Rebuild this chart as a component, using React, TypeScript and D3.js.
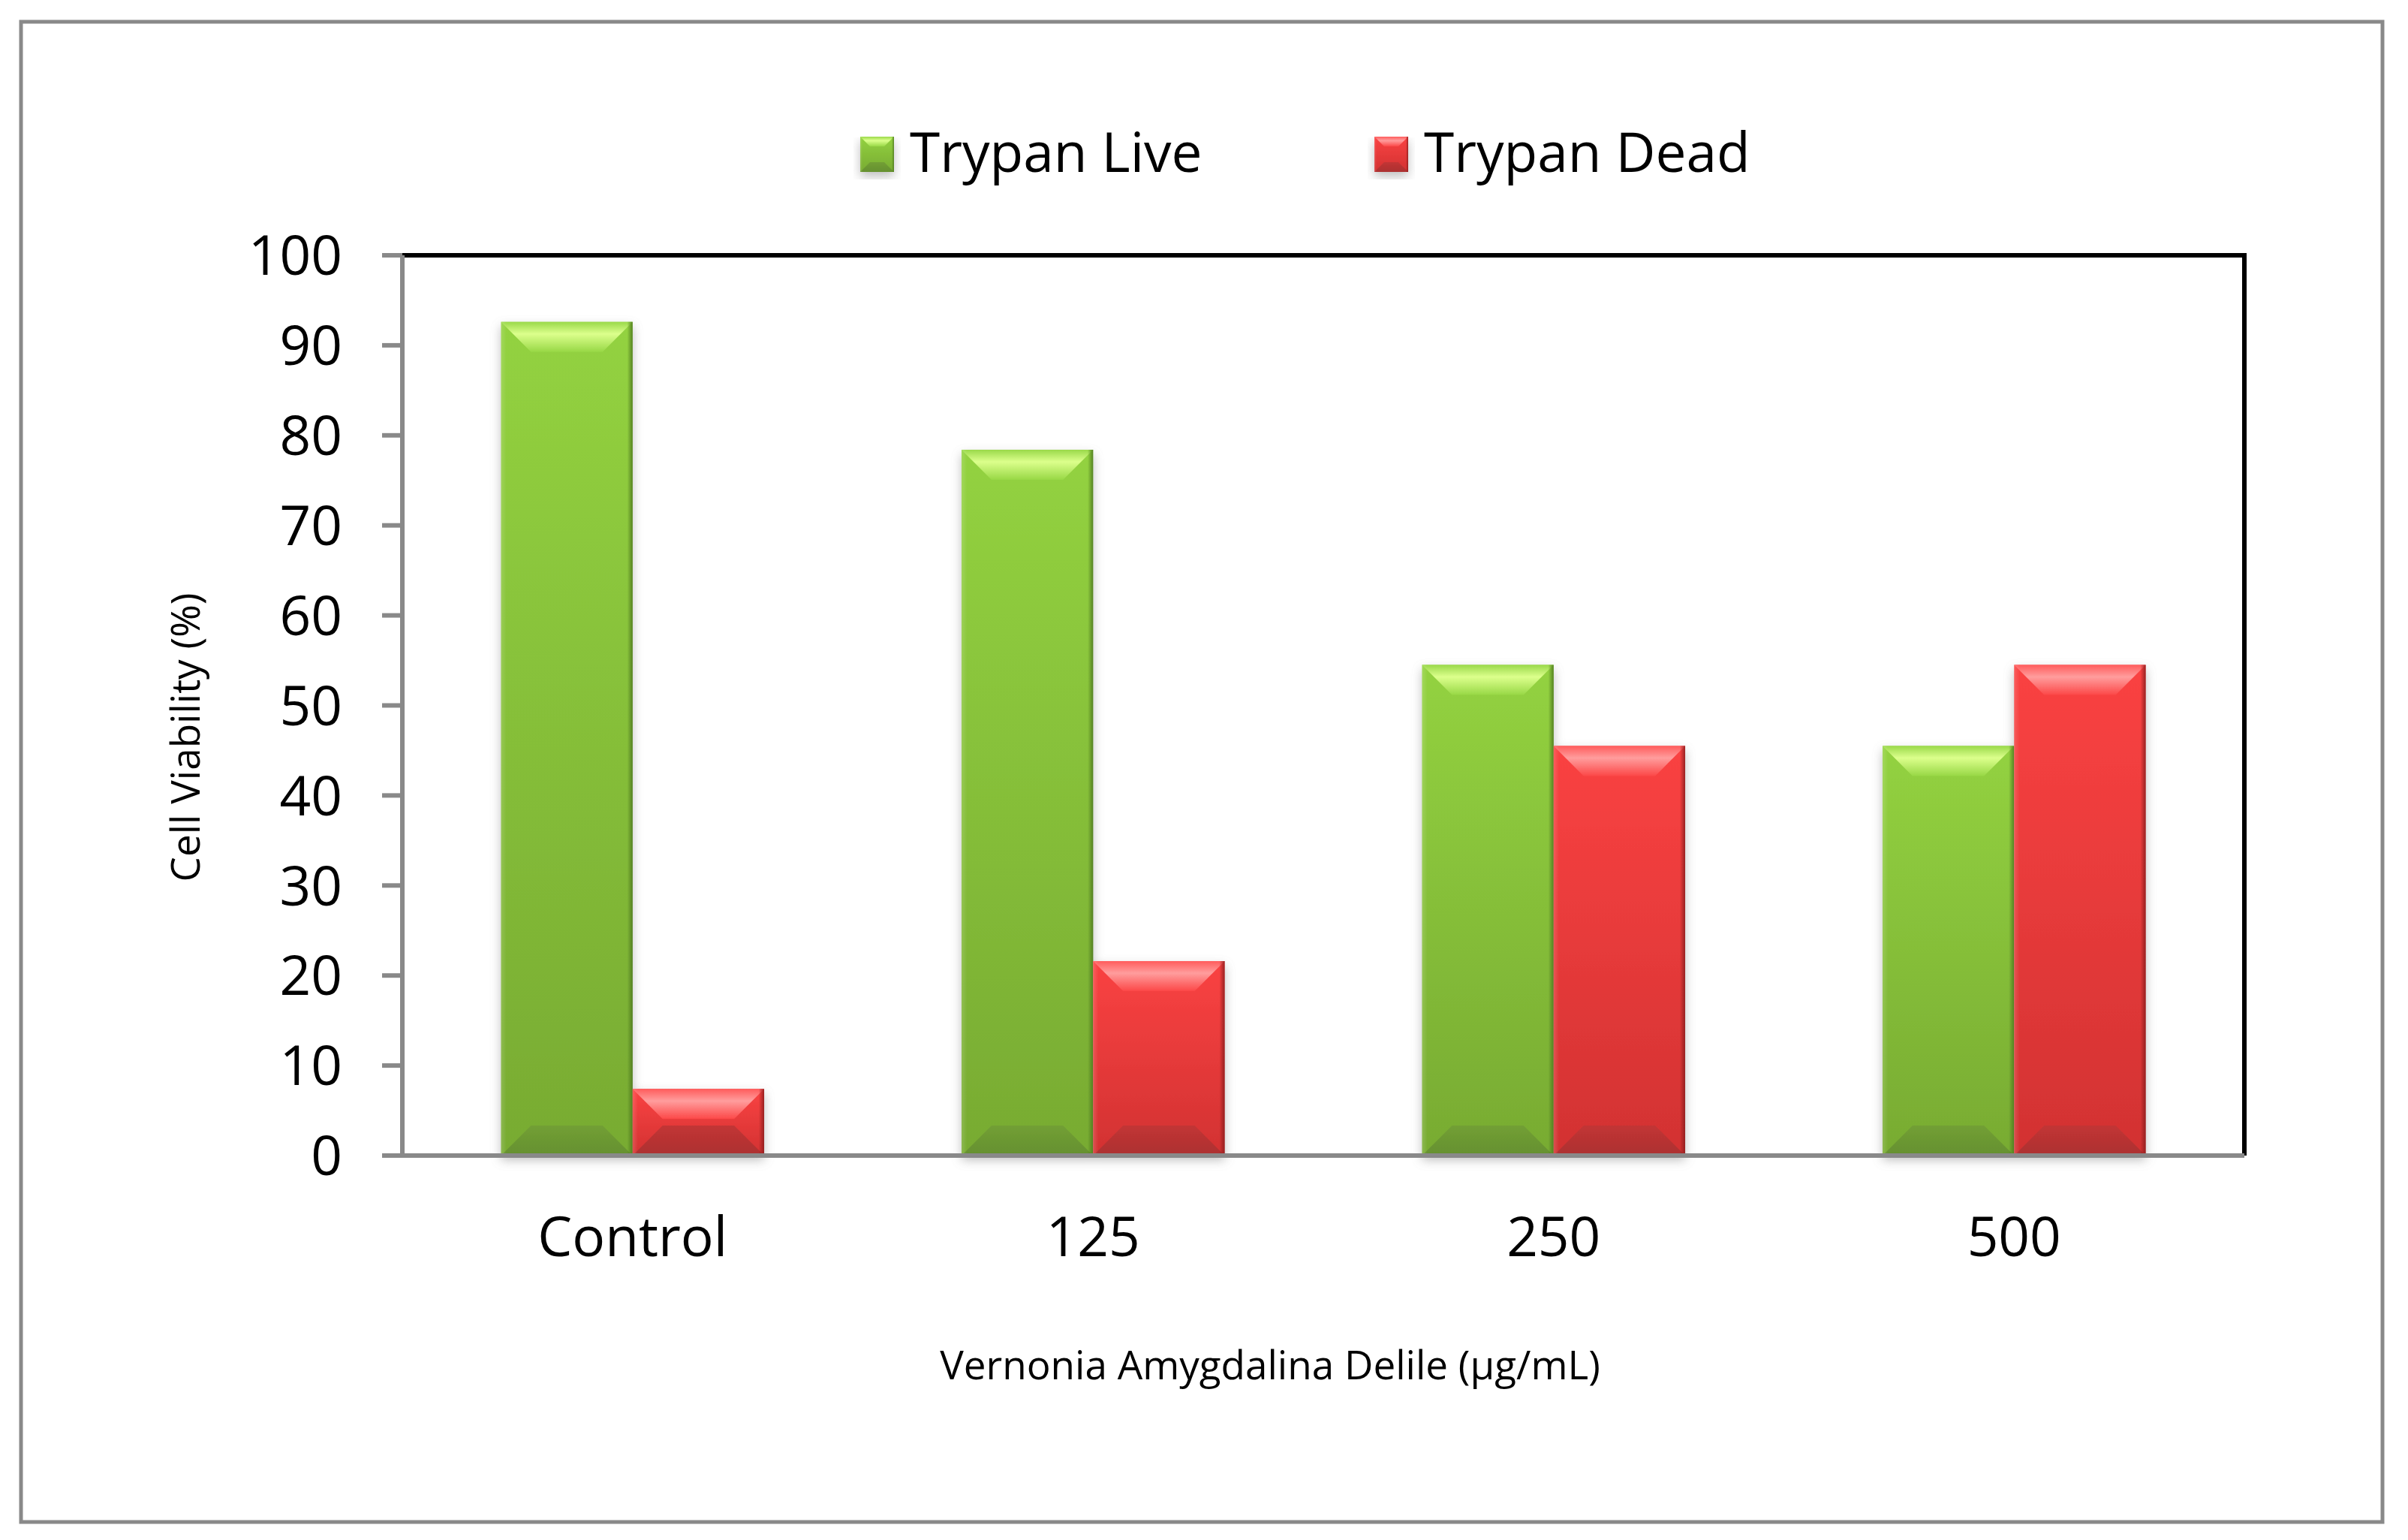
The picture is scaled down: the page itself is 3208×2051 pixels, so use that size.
import * as d3 from 'd3';

const categories = ['Control', '125', '250', '500'];
const seriesNames = ['Trypan Live', 'Trypan Dead'];
const liveValues = [92.6, 78.4, 54.5, 45.5];
const deadValues = [7.4, 21.6, 45.5, 54.5];
const yTicks = [0, 10, 20, 30, 40, 50, 60, 70, 80, 90, 100];

const W = 3208;
const H = 2051;
const plot = { left: 536, right: 2990, top: 340, bottom: 1539 };
const font = '"Open Sans", "Noto Sans", sans-serif';

type Palette = {
    id: string;
    edgeTop: string;
    highlight: string;
    topLow: string;
    centerTop: string;
    centerBottom: string;
    bottom: string;
    bottomEdge: string;
    rightEdge: string;
};

const green: Palette = {
    id: 'g',
    edgeTop: '#9ad94a',
    highlight: '#dcff8c',
    topLow: '#98d846',
    centerTop: '#93d240',
    centerBottom: '#78ab32',
    bottom: '#729f35',
    bottomEdge: '#65902f',
    rightEdge: '#4f7a20',
};

const red: Palette = {
    id: 'r',
    edgeTop: '#ff5c5c',
    highlight: '#ff9d9d',
    topLow: '#fc4848',
    centerTop: '#fa4242',
    centerBottom: '#d23232',
    bottom: '#c23535',
    bottomEdge: '#ac3030',
    rightEdge: '#8e1e1e',
};

const palettes = [green, red];

function Gradients({ p }: { p: Palette }) {
    return (
        <>
            <linearGradient id={`${p.id}-top`} x1="0" y1="0" x2="0" y2="1">
                <stop offset="0" stopColor={p.edgeTop} />
                <stop offset="0.4" stopColor={p.highlight} />
                <stop offset="1" stopColor={p.topLow} />
            </linearGradient>
            <linearGradient id={`${p.id}-center`} x1="0" y1="0" x2="0" y2="1">
                <stop offset="0" stopColor={p.centerTop} />
                <stop offset="1" stopColor={p.centerBottom} />
            </linearGradient>
            <linearGradient id={`${p.id}-bottom`} x1="0" y1="0" x2="0" y2="1">
                <stop offset="0" stopColor={p.bottom} />
                <stop offset="1" stopColor={p.bottomEdge} />
            </linearGradient>
            <linearGradient id={`${p.id}-right`} x1="0" y1="0" x2="1" y2="0">
                <stop offset="0" stopColor={p.rightEdge} stopOpacity={0} />
                <stop offset="1" stopColor={p.rightEdge} stopOpacity={0.9} />
            </linearGradient>
            <linearGradient id={`${p.id}-left`} x1="0" y1="0" x2="1" y2="0">
                <stop offset="0" stopColor="#ffffff" stopOpacity={0.15} />
                <stop offset="1" stopColor="#ffffff" stopOpacity={0} />
            </linearGradient>
        </>
    );
}

// excel style bevelled rectangle
function BevelRect({ x, y, w, h, p, bevel }: { x: number; y: number; w: number; h: number; p: Palette; bevel: number }) {
    const b = Math.min(bevel, h / 2, w / 2);
    const edge = Math.max(3, bevel * 0.18);
    const pts = (a: number[][]) => a.map((d) => d.join(',')).join(' ');
    return (
        <g>
            <rect x={x} y={y} width={w} height={h} fill={`url(#${p.id}-center)`} />
            <polygon
                points={pts([[x, y + h], [x + w, y + h], [x + w - b, y + h - b], [x + b, y + h - b]])}
                fill={`url(#${p.id}-bottom)`}
            />
            <polygon points={pts([[x, y], [x + w, y], [x + w - b, y + b], [x + b, y + b]])} fill={`url(#${p.id}-top)`} />
            <rect x={x} y={y} width={edge} height={h} fill={`url(#${p.id}-left)`} />
            <rect x={x + w - edge} y={y} width={edge} height={h} fill={`url(#${p.id}-right)`} />
        </g>
    );
}

export default function App() {
    const x = d3.scaleBand<string>().domain(categories).range([plot.left, plot.right]).padding(0);
    const xInner = d3
        .scaleBand<number>()
        .domain([0, 1])
        .range([0, x.bandwidth()])
        .paddingInner(0)
        .paddingOuter(0.75);
    const y = d3.scaleLinear().domain([0, 100]).range([plot.bottom, plot.top]);

    const series = [liveValues, deadValues];

    return (
        <svg width={W} height={H} style={{ position: 'absolute', left: 0, top: 0, background: '#fff' }}>
            <defs>
                {palettes.map((p) => (
                    <Gradients key={p.id} p={p} />
                ))}
                <filter id="shadow" x="-20%" y="-10%" width="140%" height="130%">
                    <feGaussianBlur in="SourceAlpha" stdDeviation="7" />
                    <feOffset dx="0" dy="6" result="blur" />
                    <feFlood floodColor="#7f7f7f" floodOpacity="0.5" />
                    <feComposite in2="blur" operator="in" />
                    <feMerge>
                        <feMergeNode />
                        <feMergeNode in="SourceGraphic" />
                    </feMerge>
                </filter>
            </defs>
            <rect x={0} y={0} width={W} height={H} fill="#fff" />
            <rect x={28} y={29} width={3146} height={1998} fill="none" stroke="#898989" strokeWidth={5} />

            {/* legend */}
            {seriesNames.map((name, i) => {
                const lx = [1146, 1831][i];
                return (
                    <g key={name}>
                        <g filter="url(#shadow)">
                            <BevelRect x={lx} y={182} w={45} h={47} p={palettes[i]} bevel={13} />
                        </g>
                        <text x={lx + 66} y={229} fontFamily={font} fontSize={73} fill="#000">
                            {name}
                        </text>
                    </g>
                );
            })}

            {/* plot border */}
            <path
                d={`M${plot.left},${plot.top}H${plot.right}V${plot.bottom}`}
                fill="none"
                stroke="#000"
                strokeWidth={6}
            />

            {/* bars */}
            {categories.map((c, ci) => (
                <g key={c} filter="url(#shadow)">
                    {series.map((vals, si) => {
                        const bx = (x(c) ?? 0) + (xInner(si) ?? 0);
                        const by = y(vals[ci]);
                        return (
                            <BevelRect
                                key={si}
                                x={bx}
                                y={by}
                                w={xInner.bandwidth()}
                                h={y(0) - by}
                                p={palettes[si]}
                                bevel={40}
                            />
                        );
                    })}
                </g>
            ))}

            {/* axes */}
            <line x1={plot.left} x2={plot.left} y1={plot.top} y2={plot.bottom} stroke="#898989" strokeWidth={6} />
            <line x1={509} x2={plot.right} y1={plot.bottom} y2={plot.bottom} stroke="#898989" strokeWidth={6} />
            {yTicks.map((t) => (
                <g key={t}>
                    <line x1={509} x2={plot.left} y1={y(t)} y2={y(t)} stroke="#898989" strokeWidth={6} />
                    <text
                        x={456}
                        y={y(t)}
                        dy="0.36em"
                        textAnchor="end"
                        fontFamily={font}
                        fontSize={73}
                        fill="#000"
                    >
                        {t}
                    </text>
                </g>
            ))}
            {categories.map((c) => (
                <text
                    key={c}
                    x={(x(c) ?? 0) + x.bandwidth() / 2}
                    y={1673}
                    textAnchor="middle"
                    fontFamily={font}
                    fontSize={73}
                    fill="#000"
                >
                    {c}
                </text>
            ))}

            <text x={1692} y={1837} textAnchor="middle" fontFamily={font} fontSize={53} fill="#000">
                Vernonia Amygdalina Delile (µg/mL)
            </text>
            <text
                transform={`translate(266,982) rotate(-90)`}
                textAnchor="middle"
                fontFamily={font}
                fontSize={53}
                fill="#000"
            >
                Cell Viability (%)
            </text>
        </svg>
    );
}
